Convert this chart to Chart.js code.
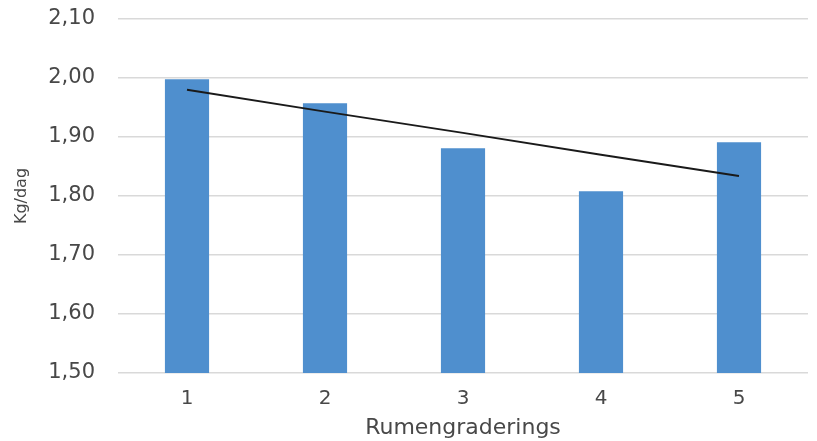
<!DOCTYPE html>
<html>
<head>
<meta charset="utf-8">
<script src="https://cdn.jsdelivr.net/npm/chart.js@4"></script>
<style>
  html, body { margin: 0; padding: 0; background: #fff; }
  #wrap { width: 817px; height: 441px; position: relative; }
</style>
</head>
<body>
<div id="wrap"><canvas id="chart"></canvas></div>
<script>
// values
const categories = ["1", "2", "3", "4", "5"];
const kgPerDay = [1.998, 1.957, 1.881, 1.808, 1.891];
const trendValues = [1.980, 1.943, 1.907, 1.870, 1.834];
const yTicks = [1.5, 1.6, 1.7, 1.8, 1.9, 2.0, 2.1];

const fontFamily = "'DejaVu Sans', sans-serif";
const textColor = "#484848";

const ctx = document.getElementById("chart").getContext("2d");
new Chart(ctx, {
  type: "bar",
  data: {
    labels: categories,
    datasets: [
      {
        type: "line",
        label: "Trend",
        data: trendValues,
        borderColor: "#1a1a1a",
        borderWidth: 2,
        pointRadius: 0,
        tension: 0,
        fill: false,
        order: 0,
      },
      {
        label: "Kg/dag",
        data: kgPerDay,
        backgroundColor: "#4f8fce",
        borderWidth: 0,
        categoryPercentage: 1.0,
        barPercentage: 0.32,
        order: 1,
      },
    ],
  },
  options: {
    responsive: true,
    maintainAspectRatio: false,
    animation: false,
    layout: { padding: { top: 19, right: 9, left: 12, bottom: 0 } },
    plugins: { legend: { display: false }, tooltip: { enabled: false } },
    scales: {
      x: {
        grid: { display: false, drawTicks: false },
        border: { display: false },
        afterFit: (axis) => { axis.height = 68; },
        ticks: { color: textColor, font: { family: fontFamily, size: 20 }, padding: 14 },
        title: {
          display: true,
          text: "Rumengraderings",
          color: textColor,
          font: { family: fontFamily, size: 22 },
          padding: { top: 2, bottom: 0 },
        },
      },
      y: {
        min: 1.5,
        max: 2.1,
        afterBuildTicks: (axis) => {
          axis.ticks = yTicks.map((v) => ({ value: v }));
        },
        afterFit: (axis) => { axis.width = 106; },
        // invisible tick marks give the gap between labels and plot
        grid: { color: "#d9d9d9", lineWidth: 1.5, drawTicks: true, tickLength: 23, tickColor: "rgba(0,0,0,0)" },
        border: { display: false },
        ticks: {
          color: textColor,
          font: { family: fontFamily, size: 21 },
          padding: 0,
          callback: (v) => Number(v).toFixed(2).replace(".", ","),
        },
        title: {
          display: true,
          text: "Kg/dag",
          color: textColor,
          font: { family: fontFamily, size: 16 },
          padding: { top: 0, bottom: 0 },
        },
      },
    },
  },
});
</script>
</body>
</html>
